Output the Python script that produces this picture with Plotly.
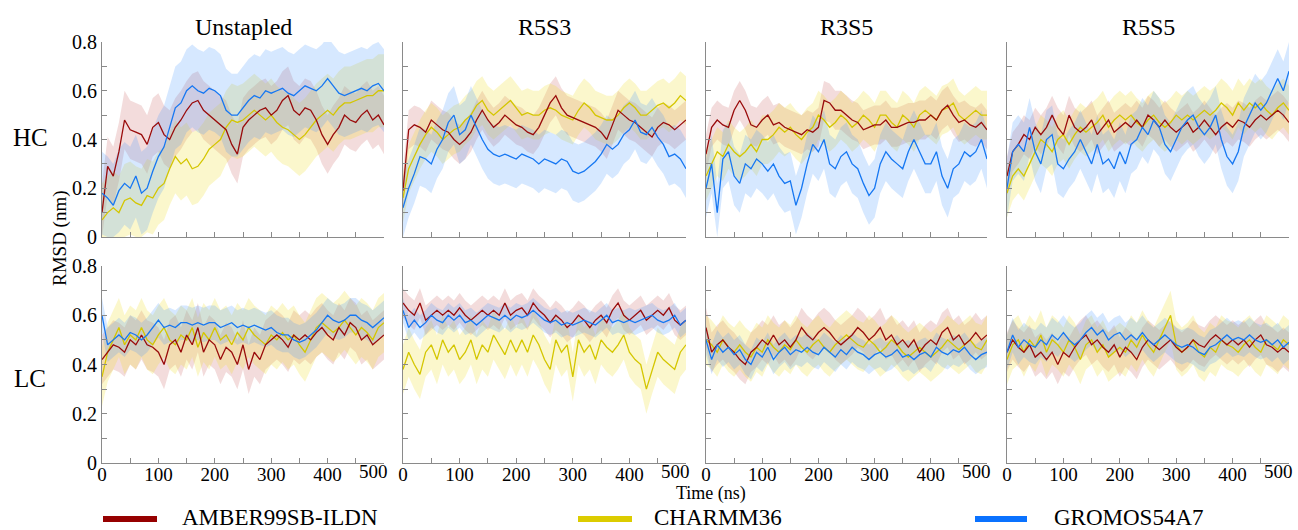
import plotly.graph_objects as go

# ---------------- data (RMSD in nm, every 10 ns) ----------------
time_ns = [0, 10, 20, 30, 40, 50, 60, 70, 80, 90, 100, 110, 120, 130, 140, 150, 160, 170, 180, 190,
           200, 210, 220, 230, 240, 250, 260, 270, 280, 290, 300, 310, 320, 330, 340, 350, 360, 370,
           380, 390, 400, 410, 420, 430, 440, 450, 460, 470, 480, 490, 500]

panel_titles = ["Unstapled", "R5S3", "R3S5", "R5S5"]
row_labels = ["HC", "LC"]
force_fields = ["AMBER99SB-ILDN", "CHARMM36", "GROMOS54A7"]
x_tick_labels = ["0", "", "100", "", "200", "", "300", "", "400", "", ""]
x_end_label = "500"
y_tick_labels = ["0", "", "0.2", "", "0.4", "", "0.6", "", "0.8"]

# ---- HC row ----
hc_unstapled_amber = [0.10, 0.29, 0.25, 0.35, 0.48, 0.44, 0.43, 0.42, 0.38, 0.45, 0.47, 0.42, 0.40, 0.45, 0.48,
                      0.52, 0.55, 0.56, 0.52, 0.50, 0.48, 0.46, 0.44, 0.38, 0.34, 0.45, 0.48, 0.50, 0.52, 0.53,
                      0.50, 0.52, 0.56, 0.58, 0.52, 0.50, 0.53, 0.52, 0.48, 0.42, 0.38, 0.42, 0.45, 0.50, 0.48,
                      0.47, 0.50, 0.52, 0.48, 0.50, 0.46]
hc_unstapled_charmm = [0.07, 0.10, 0.12, 0.10, 0.15, 0.16, 0.14, 0.13, 0.17, 0.16, 0.20, 0.22, 0.28, 0.33, 0.30,
                       0.32, 0.28, 0.29, 0.32, 0.36, 0.38, 0.40, 0.45, 0.48, 0.47, 0.48, 0.50, 0.52, 0.50, 0.48,
                       0.50, 0.47, 0.45, 0.44, 0.42, 0.40, 0.42, 0.45, 0.48, 0.50, 0.52, 0.50, 0.53, 0.55, 0.55,
                       0.56, 0.57, 0.58, 0.58, 0.60, 0.60]
hc_unstapled_gromos = [0.18, 0.16, 0.13, 0.19, 0.22, 0.20, 0.25, 0.18, 0.20, 0.27, 0.33, 0.37, 0.45, 0.53, 0.55,
                       0.60, 0.62, 0.60, 0.59, 0.61, 0.60, 0.58, 0.52, 0.50, 0.50, 0.53, 0.56, 0.58, 0.57, 0.60,
                       0.59, 0.60, 0.61, 0.59, 0.58, 0.60, 0.62, 0.61, 0.60, 0.62, 0.65, 0.62, 0.59, 0.58, 0.59,
                       0.60, 0.61, 0.60, 0.62, 0.63, 0.60]

hc_r5s3_amber = [0.19, 0.44, 0.46, 0.45, 0.43, 0.48, 0.46, 0.44, 0.43, 0.40, 0.38, 0.40, 0.43, 0.48, 0.52,
                 0.48, 0.45, 0.47, 0.50, 0.48, 0.46, 0.45, 0.43, 0.42, 0.45, 0.50, 0.55, 0.58, 0.53, 0.50,
                 0.49, 0.48, 0.47, 0.46, 0.45, 0.43, 0.40, 0.46, 0.52, 0.50, 0.48, 0.47, 0.45, 0.43, 0.41,
                 0.45, 0.47, 0.46, 0.44, 0.46, 0.48]
hc_r5s3_charmm = [0.16, 0.28, 0.33, 0.38, 0.42, 0.45, 0.43, 0.40, 0.42, 0.44, 0.45, 0.48, 0.50, 0.54, 0.56,
                  0.52, 0.50, 0.52, 0.54, 0.56, 0.53, 0.50, 0.51, 0.50, 0.50, 0.52, 0.53, 0.52, 0.50, 0.49,
                  0.48, 0.52, 0.55, 0.53, 0.50, 0.49, 0.48, 0.48, 0.50, 0.53, 0.55, 0.53, 0.50, 0.50, 0.52,
                  0.54, 0.55, 0.53, 0.55, 0.58, 0.56]
hc_r5s3_gromos = [0.12, 0.20, 0.26, 0.33, 0.32, 0.30, 0.36, 0.40, 0.47, 0.50, 0.42, 0.44, 0.50, 0.45, 0.40,
                  0.36, 0.34, 0.33, 0.34, 0.33, 0.32, 0.34, 0.33, 0.32, 0.30, 0.32, 0.31, 0.30, 0.32, 0.31,
                  0.27, 0.26, 0.27, 0.29, 0.31, 0.34, 0.38, 0.36, 0.38, 0.42, 0.44, 0.48, 0.43, 0.42, 0.45,
                  0.41, 0.38, 0.33, 0.34, 0.32, 0.28]

hc_r3s5_amber = [0.34, 0.45, 0.48, 0.46, 0.45, 0.52, 0.56, 0.52, 0.46, 0.45, 0.48, 0.50, 0.46, 0.47, 0.45,
                 0.44, 0.43, 0.42, 0.44, 0.43, 0.45, 0.56, 0.55, 0.52, 0.52, 0.50, 0.48, 0.47, 0.44, 0.45,
                 0.46, 0.46, 0.48, 0.45, 0.45, 0.46, 0.47, 0.47, 0.48, 0.48, 0.50, 0.48, 0.52, 0.54, 0.50,
                 0.47, 0.48, 0.46, 0.45, 0.47, 0.44]
hc_r3s5_charmm = [0.25, 0.30, 0.35, 0.33, 0.38, 0.35, 0.33, 0.35, 0.38, 0.35, 0.40, 0.40, 0.42, 0.45, 0.43,
                  0.45, 0.42, 0.40, 0.43, 0.45, 0.50, 0.48, 0.45, 0.47, 0.50, 0.48, 0.45, 0.47, 0.50, 0.48,
                  0.45, 0.50, 0.50, 0.47, 0.45, 0.50, 0.48, 0.45, 0.50, 0.52, 0.50, 0.48, 0.52, 0.53, 0.55,
                  0.50, 0.48, 0.50, 0.52, 0.50, 0.50]
hc_r3s5_gromos = [0.20, 0.30, 0.10, 0.32, 0.35, 0.25, 0.22, 0.30, 0.28, 0.32, 0.30, 0.27, 0.30, 0.25, 0.22,
                  0.23, 0.13, 0.20, 0.30, 0.38, 0.35, 0.40, 0.30, 0.28, 0.33, 0.35, 0.30, 0.28, 0.22, 0.17,
                  0.20, 0.30, 0.35, 0.32, 0.30, 0.28, 0.35, 0.40, 0.35, 0.30, 0.30, 0.35, 0.25, 0.20, 0.28,
                  0.30, 0.35, 0.33, 0.35, 0.40, 0.32]

hc_r5s5_amber = [0.25, 0.35, 0.38, 0.42, 0.40, 0.45, 0.42, 0.45, 0.50, 0.45, 0.42, 0.50, 0.45, 0.43, 0.45,
                 0.48, 0.42, 0.45, 0.48, 0.43, 0.45, 0.47, 0.45, 0.48, 0.45, 0.50, 0.48, 0.45, 0.48, 0.45,
                 0.43, 0.45, 0.47, 0.43, 0.45, 0.48, 0.45, 0.42, 0.45, 0.47, 0.45, 0.48, 0.47, 0.45, 0.48,
                 0.50, 0.48, 0.50, 0.52, 0.50, 0.47]
hc_r5s5_charmm = [0.18, 0.25, 0.28, 0.25, 0.30, 0.35, 0.40, 0.38, 0.35, 0.40, 0.42, 0.38, 0.42, 0.45, 0.43,
                  0.45, 0.47, 0.50, 0.45, 0.48, 0.50, 0.48, 0.50, 0.47, 0.45, 0.48, 0.50, 0.47, 0.45, 0.47,
                  0.50, 0.48, 0.50, 0.48, 0.50, 0.52, 0.50, 0.52, 0.55, 0.53, 0.50, 0.55, 0.52, 0.55, 0.53,
                  0.55, 0.52, 0.50, 0.53, 0.55, 0.52]
hc_r5s5_gromos = [0.20, 0.35, 0.38, 0.35, 0.45, 0.35, 0.30, 0.40, 0.42, 0.30, 0.28, 0.32, 0.35, 0.40, 0.35,
                  0.30, 0.38, 0.30, 0.32, 0.28, 0.35, 0.30, 0.38, 0.40, 0.45, 0.42, 0.48, 0.45, 0.38, 0.35,
                  0.40, 0.45, 0.48, 0.50, 0.45, 0.42, 0.45, 0.50, 0.40, 0.33, 0.30, 0.35, 0.45, 0.50, 0.55,
                  0.52, 0.55, 0.60, 0.65, 0.60, 0.68]

# ---- LC row ----
lc_unstapled_amber = [0.42, 0.45, 0.48, 0.47, 0.45, 0.50, 0.48, 0.52, 0.48, 0.47, 0.45, 0.40, 0.48, 0.50, 0.45,
                      0.52, 0.48, 0.55, 0.45, 0.50, 0.48, 0.42, 0.47, 0.45, 0.40, 0.48, 0.38, 0.45, 0.42, 0.48,
                      0.50, 0.52, 0.50, 0.47, 0.52, 0.50, 0.52, 0.50, 0.53, 0.55, 0.52, 0.50, 0.55, 0.52, 0.57,
                      0.55, 0.50, 0.52, 0.48, 0.50, 0.52]
lc_unstapled_charmm = [0.35, 0.45, 0.50, 0.55, 0.48, 0.52, 0.50, 0.55, 0.50, 0.48, 0.52, 0.55, 0.50, 0.48, 0.52,
                       0.50, 0.55, 0.47, 0.53, 0.50, 0.55, 0.50, 0.52, 0.48, 0.53, 0.50, 0.55, 0.52, 0.50, 0.48,
                       0.52, 0.50, 0.53, 0.50, 0.52, 0.48, 0.45, 0.50, 0.55, 0.57, 0.55, 0.53, 0.55, 0.58, 0.55,
                       0.52, 0.55, 0.53, 0.50, 0.55, 0.57]
lc_unstapled_gromos = [0.60, 0.48, 0.50, 0.52, 0.50, 0.53, 0.52, 0.50, 0.52, 0.55, 0.58, 0.55, 0.56, 0.55, 0.57,
                       0.57, 0.56, 0.57, 0.56, 0.57, 0.57, 0.55, 0.56, 0.57, 0.55, 0.56, 0.55, 0.56, 0.55, 0.54,
                       0.55, 0.53, 0.52, 0.52, 0.50, 0.49, 0.50, 0.52, 0.54, 0.57, 0.60, 0.58, 0.57, 0.58, 0.60,
                       0.60, 0.58, 0.57, 0.55, 0.57, 0.59]

lc_r5s3_amber = [0.65, 0.62, 0.60, 0.65, 0.58, 0.60, 0.62, 0.60, 0.62, 0.60, 0.63, 0.60, 0.58, 0.60, 0.62,
                 0.60, 0.62, 0.60, 0.65, 0.60, 0.62, 0.63, 0.60, 0.65, 0.62, 0.60, 0.57, 0.60, 0.58, 0.55,
                 0.57, 0.60, 0.58, 0.55, 0.58, 0.60, 0.57, 0.62, 0.65, 0.60, 0.58, 0.60, 0.62, 0.58, 0.60,
                 0.62, 0.60, 0.63, 0.58, 0.56, 0.58]
lc_r5s3_charmm = [0.38, 0.45, 0.40, 0.36, 0.45, 0.48, 0.42, 0.50, 0.45, 0.48, 0.42, 0.45, 0.50, 0.42, 0.48,
                  0.45, 0.52, 0.48, 0.44, 0.50, 0.45, 0.50, 0.45, 0.52, 0.48, 0.42, 0.38, 0.50, 0.45, 0.48,
                  0.35, 0.50, 0.45, 0.48, 0.42, 0.50, 0.47, 0.45, 0.48, 0.52, 0.45, 0.42, 0.40, 0.30, 0.38,
                  0.45, 0.42, 0.40, 0.38, 0.45, 0.48]
lc_r5s3_gromos = [0.62, 0.55, 0.58, 0.55, 0.57, 0.60, 0.58, 0.57, 0.60, 0.58, 0.60, 0.57, 0.58, 0.56, 0.58,
                  0.60, 0.59, 0.58, 0.60, 0.58, 0.60, 0.59, 0.60, 0.62, 0.60, 0.58, 0.57, 0.58, 0.56, 0.57,
                  0.56, 0.57, 0.58, 0.57, 0.56, 0.58, 0.60, 0.57, 0.58, 0.57, 0.58, 0.57, 0.58, 0.59, 0.60,
                  0.58, 0.57, 0.58, 0.60, 0.56, 0.58]

lc_r3s5_amber = [0.55, 0.45, 0.48, 0.50, 0.47, 0.45, 0.42, 0.40, 0.45, 0.47, 0.50, 0.48, 0.52, 0.48, 0.50,
                 0.47, 0.50, 0.55, 0.52, 0.50, 0.53, 0.55, 0.53, 0.50, 0.48, 0.50, 0.52, 0.55, 0.53, 0.50,
                 0.52, 0.55, 0.50, 0.52, 0.48, 0.50, 0.47, 0.50, 0.45, 0.48, 0.50, 0.48, 0.53, 0.55, 0.50,
                 0.52, 0.48, 0.50, 0.53, 0.50, 0.52]
lc_r3s5_charmm = [0.50, 0.48, 0.45, 0.50, 0.47, 0.45, 0.48, 0.45, 0.43, 0.47, 0.45, 0.50, 0.47, 0.45, 0.48,
                  0.46, 0.50, 0.47, 0.45, 0.48, 0.50, 0.47, 0.45, 0.48, 0.50, 0.52, 0.50, 0.48, 0.47, 0.50,
                  0.48, 0.45, 0.47, 0.50, 0.48, 0.45, 0.43, 0.45, 0.47, 0.45, 0.43, 0.45, 0.47, 0.50, 0.48,
                  0.46, 0.48, 0.50, 0.47, 0.46, 0.50]
lc_r3s5_gromos = [0.50, 0.42, 0.48, 0.45, 0.47, 0.44, 0.46, 0.42, 0.40, 0.45, 0.43, 0.47, 0.42, 0.45, 0.47,
                  0.44, 0.46, 0.45, 0.47, 0.45, 0.44, 0.47, 0.45, 0.43, 0.46, 0.44, 0.47, 0.45, 0.44, 0.42,
                  0.44, 0.45, 0.43, 0.44, 0.46, 0.43, 0.44, 0.42, 0.44, 0.45, 0.43, 0.47, 0.45, 0.44, 0.46,
                  0.45, 0.47, 0.44, 0.42, 0.44, 0.45]

lc_r5s5_amber = [0.45, 0.50, 0.47, 0.45, 0.48, 0.43, 0.45, 0.42, 0.45, 0.40, 0.45, 0.43, 0.47, 0.50, 0.52,
                 0.48, 0.50, 0.47, 0.45, 0.48, 0.43, 0.47, 0.45, 0.42, 0.47, 0.50, 0.48, 0.46, 0.48, 0.50,
                 0.47, 0.45, 0.47, 0.50, 0.48, 0.47, 0.50, 0.52, 0.50, 0.48, 0.50, 0.48, 0.50, 0.47, 0.50,
                 0.52, 0.48, 0.47, 0.45, 0.47, 0.45]
lc_r5s5_charmm = [0.42, 0.48, 0.50, 0.45, 0.50, 0.47, 0.52, 0.45, 0.50, 0.48, 0.45, 0.50, 0.47, 0.42, 0.48,
                  0.50, 0.45, 0.48, 0.43, 0.45, 0.47, 0.45, 0.50, 0.47, 0.52, 0.48, 0.45, 0.50, 0.55, 0.60,
                  0.48, 0.45, 0.47, 0.50, 0.45, 0.43, 0.47, 0.45, 0.50, 0.48, 0.47, 0.45, 0.48, 0.50, 0.47,
                  0.45, 0.50, 0.48, 0.46, 0.50, 0.48]
lc_r5s5_gromos = [0.45, 0.52, 0.47, 0.50, 0.48, 0.47, 0.50, 0.48, 0.52, 0.50, 0.53, 0.50, 0.48, 0.50, 0.53,
                  0.55, 0.52, 0.54, 0.50, 0.52, 0.53, 0.50, 0.52, 0.50, 0.53, 0.50, 0.48, 0.50, 0.52, 0.50,
                  0.48, 0.47, 0.48, 0.47, 0.45, 0.44, 0.47, 0.48, 0.50, 0.52, 0.50, 0.51, 0.50, 0.52, 0.50,
                  0.49, 0.50, 0.48, 0.50, 0.47, 0.49]

# standard deviation (shaded band half-width) per panel: Unstapled, R5S3, R3S5, R5S5
hc_sd_amber = [0.12, 0.08, 0.08, 0.08]
hc_sd_charmm = [0.15, 0.10, 0.10, 0.10]
hc_sd_gromos = [0.17, 0.12, 0.12, 0.12]
lc_sd_amber = [0.10, 0.06, 0.08, 0.08]
lc_sd_charmm = [0.12, 0.10, 0.10, 0.10]
lc_sd_gromos = [0.07, 0.05, 0.06, 0.07]

# ---------------- assembly ----------------
rows = [
    [[hc_unstapled_amber, hc_unstapled_charmm, hc_unstapled_gromos],
     [hc_r5s3_amber, hc_r5s3_charmm, hc_r5s3_gromos],
     [hc_r3s5_amber, hc_r3s5_charmm, hc_r3s5_gromos],
     [hc_r5s5_amber, hc_r5s5_charmm, hc_r5s5_gromos]],
    [[lc_unstapled_amber, lc_unstapled_charmm, lc_unstapled_gromos],
     [lc_r5s3_amber, lc_r5s3_charmm, lc_r5s3_gromos],
     [lc_r3s5_amber, lc_r3s5_charmm, lc_r3s5_gromos],
     [lc_r5s5_amber, lc_r5s5_charmm, lc_r5s5_gromos]],
]
sds = [[hc_sd_amber, hc_sd_charmm, hc_sd_gromos], [lc_sd_amber, lc_sd_charmm, lc_sd_gromos]]

for r in rows:
    for p in r:
        for s in p:
            assert len(s) == len(time_ns), len(s)

W, H = 1298, 530
FONT = "Times New Roman, Liberation Serif, serif"
line_colors = ["#990b0b", "#d4c600", "#1677f2"]
band_colors = ["rgba(190,60,60,0.18)", "rgba(240,220,40,0.24)", "rgba(70,150,255,0.22)"]
legend_colors = ["#960000", "#dccc00", "#0a72ff"]
axis_color = "#8a8a8a"

col_px = [(102, 384), (403, 686), (706, 987), (1007, 1289)]
row_px = [(42, 237), (266, 463)]

fig = go.Figure()
layout_axes = {}
annotations = []

for ri in range(2):
    for ci in range(4):
        k = ri * 4 + ci + 1
        xa = "x" if k == 1 else f"x{k}"
        ya = "y" if k == 1 else f"y{k}"
        series = rows[ri][ci]
        for si in range(3):
            vals = series[si]
            sd = sds[ri][si][ci]
            upper = [v + sd for v in vals]
            lower = [max(v - sd, 0) for v in vals]
            fig.add_trace(go.Scatter(
                x=time_ns + time_ns[::-1], y=upper + lower[::-1],
                fill="toself", fillcolor=band_colors[si], line=dict(width=0),
                mode="lines", hoverinfo="skip", showlegend=False, xaxis=xa, yaxis=ya))
        for si in [1, 0, 2]:
            fig.add_trace(go.Scatter(
                x=time_ns, y=series[si], mode="lines",
                line=dict(color=line_colors[si], width=1.3),
                name=force_fields[si], showlegend=False, xaxis=xa, yaxis=ya))

        x0, x1 = col_px[ci]
        y0, y1 = row_px[ri]
        xkey = "xaxis" if k == 1 else f"xaxis{k}"
        ykey = "yaxis" if k == 1 else f"yaxis{k}"
        layout_axes[xkey] = dict(
            domain=[x0 / W, x1 / W], anchor=ya, range=[0, 500], automargin=False,
            showline=True, linecolor=axis_color, linewidth=1, mirror=False,
            ticks="inside", ticklen=5, tickcolor=axis_color, tickwidth=1,
            tickvals=time_ns[::5], ticktext=x_tick_labels,
            showticklabels=(ri == 1), showgrid=False, zeroline=False,
            ticklabeloverflow="allow", ticklabelstandoff=-6,
            tickfont=dict(family=FONT, size=19, color="black"))
        layout_axes[ykey] = dict(
            domain=[1 - y1 / H, 1 - y0 / H], anchor=xa, range=[0, 0.8], automargin=False,
            showline=True, linecolor=axis_color, linewidth=1, mirror=False,
            ticks="inside", ticklen=5, tickcolor=axis_color, tickwidth=1,
            tickvals=[0, 0.1, 0.2, 0.3, 0.4, 0.5, 0.6, 0.7, 0.8], ticktext=y_tick_labels,
            showticklabels=(ci == 0), showgrid=False, zeroline=False,
            tickfont=dict(family=FONT, size=20, color="black"))
        if ri == 1:
            annotations.append(dict(text=x_end_label, x=time_ns[-1], xref=xa, y=1 - 471 / H, yref="paper",
                                    showarrow=False, xanchor="right", yanchor="middle", xshift=6,
                                    font=dict(family=FONT, size=19, color="black")))

for ci, title in enumerate(panel_titles):
    x0, x1 = col_px[ci]
    annotations.append(dict(text=title, x=(x0 + x1) / 2 / W, y=1 - 27 / H, xref="paper", yref="paper",
                            showarrow=False, xanchor="center", yanchor="middle",
                            font=dict(family=FONT, size=24, color="black")))
annotations.append(dict(text=row_labels[0], x=30 / W, y=1 - 138 / H, xref="paper", yref="paper",
                        showarrow=False, xanchor="center", yanchor="middle",
                        font=dict(family=FONT, size=25, color="black")))
annotations.append(dict(text=row_labels[1], x=30 / W, y=1 - 378 / H, xref="paper", yref="paper",
                        showarrow=False, xanchor="center", yanchor="middle",
                        font=dict(family=FONT, size=25, color="black")))
annotations.append(dict(text="RMSD (nm)", x=60 / W, y=1 - 238 / H, xref="paper", yref="paper",
                        showarrow=False, xanchor="center", yanchor="middle", textangle=-90,
                        font=dict(family=FONT, size=19, color="black")))
annotations.append(dict(text="Time (ns)", x=711 / W, y=1 - 493 / H, xref="paper", yref="paper",
                        showarrow=False, xanchor="center", yanchor="middle",
                        font=dict(family=FONT, size=18, color="black")))

legend_swatch_px = [(103, 157), (578, 632), (975, 1027)]
legend_text_px = [180, 652, 1052]
shapes = []
for i in range(3):
    a, b = legend_swatch_px[i]
    shapes.append(dict(type="line", xref="paper", yref="paper", x0=a / W, x1=b / W,
                       y0=1 - 519 / H, y1=1 - 519 / H, line=dict(color=legend_colors[i], width=6)))
    annotations.append(dict(text=force_fields[i], x=legend_text_px[i] / W, y=1 - 517 / H,
                            xref="paper", yref="paper", showarrow=False, xanchor="left", yanchor="middle",
                            font=dict(family=FONT, size=23, color="black")))

fig.update_layout(
    template="none",
    width=W, height=H, margin=dict(l=0, r=0, t=0, b=0, pad=0),
    paper_bgcolor="white", plot_bgcolor="white",
    showlegend=False, annotations=annotations, shapes=shapes,
    font=dict(family=FONT, color="black"),
    **layout_axes)

fig.write_html("out.html")
